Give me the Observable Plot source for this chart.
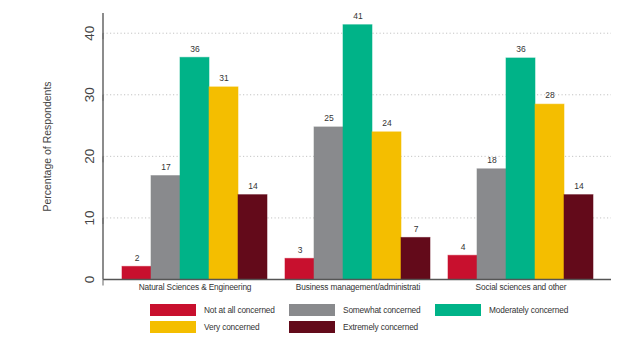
<!DOCTYPE html>
<html>
<head>
<meta charset="utf-8">
<script src="https://cdn.jsdelivr.net/npm/d3@7"></script>
<script src="https://cdn.jsdelivr.net/npm/@observablehq/plot@0.6"></script>
<style>
  html, body { margin: 0; padding: 0; background: #fff; }
  body { width: 624px; height: 356px; overflow: hidden; font-family: "Liberation Sans", Arial, sans-serif; }
  #chart svg { display: block; }
  #legend { position: relative; height: 58px; }
  .item { position: absolute; display: flex; align-items: center; font-size: 8.3px; letter-spacing: -0.15px; color: #333; }
  .sw { width: 46px; height: 12px; margin-right: 8px; box-sizing: border-box; flex: none; }
  .xlab text { letter-spacing: -0.15px; }
</style>
</head>
<body>
<div id="chart"></div>
<div id="legend"></div>
<script>
const groups = ["Natural Sciences & Engineering", "Business management/administrati", "Social sciences and other"];
const concerns = ["Not at all concerned", "Somewhat concerned", "Moderately concerned", "Very concerned", "Extremely concerned"];
const colors = ["#C8102E", "#898A8D", "#00B388", "#F4BE00", "#630A1A"];
const notAtAll   = [2.05, 3.35, 3.85];
const somewhat   = [16.8, 24.7, 17.9];
const moderately = [36.0, 41.3, 35.9];
const very       = [31.2, 23.9, 28.4];
const extremely  = [13.7, 6.75, 13.7];
const yTicks = [0, 10, 20, 30, 40];
const gridTicks = [10, 20, 30, 40];

const series = [notAtAll, somewhat, moderately, very, extremely];
const data = [];
series.forEach((vals, i) => vals.forEach((v, g) => data.push({group: groups[g], concern: concerns[i], ci: i, value: v})));

const barW = 29;
const marks = [
  Plot.ruleY(gridTicks, {stroke: "#c4c4c4", strokeDasharray: "1.2,2.3", strokeWidth: 1})
];
concerns.forEach((c, i) => {
  const d = data.filter(r => r.ci === i);
  marks.push(Plot.barY(d, {x: "group", y: "value", fill: colors[i], insetLeft: i * barW, insetRight: (4 - i) * barW,
    stroke: colors[i], strokeOpacity: 0.55, strokeWidth: 1}));
  marks.push(Plot.text(d, {x: "group", y: "value", text: r => String(Math.round(r.value)), dx: (i - 2) * barW, dy: -9,
    fontSize: 8.5, fill: "#333"}));
});
marks.push(Plot.ruleY([0], {stroke: "#555", strokeWidth: 1.5}));
marks.push(Plot.axisY({ticks: yTicks, tickSize: 6, tickPadding: 8, rotate: -90, textAnchor: "middle", fontSize: 13.5, fill: "#444", stroke: "#666", label: null}));
marks.push(Plot.axisX({tickSize: 0, tickPadding: 5, fontSize: 8.3, fill: "#333", label: null, className: "xlab"}));
marks.push(Plot.text(["Percentage of Respondents"], {frameAnchor: "left", textAnchor: "middle", dx: -56, rotate: -90, fontSize: 10.5, fill: "#444"}));

const plot = Plot.plot({
  width: 624,
  height: 298,
  marginLeft: 103,
  marginRight: 13,
  marginTop: 13,
  marginBottom: 19,
  style: {fontFamily: "Liberation Sans, Arial, sans-serif", background: "#fff"},
  x: {domain: groups, padding: 0.112},
  y: {domain: [0, 43.2], label: null},
  marks
});
const svg = d3.select(plot);
document.getElementById("chart").append(plot);
// left axis line
svg.append("line").attr("x1", 103).attr("x2", 103).attr("y1", 13).attr("y2", 279.5).attr("stroke", "#666").attr("stroke-width", 1.5);

const legend = document.getElementById("legend");
const pos = [[150, 6], [289, 6], [435, 6], [150, 23], [289, 23]];
concerns.forEach((c, i) => {
  const it = document.createElement("div");
  it.className = "item";
  it.style.left = pos[i][0] + "px";
  it.style.top = pos[i][1] + "px";
  it.innerHTML = `<div class="sw" style="background:${colors[i]};border:1px solid ${colors[i]}99"></div><span>${c}</span>`;
  legend.append(it);
});
</script>
</body>
</html>
